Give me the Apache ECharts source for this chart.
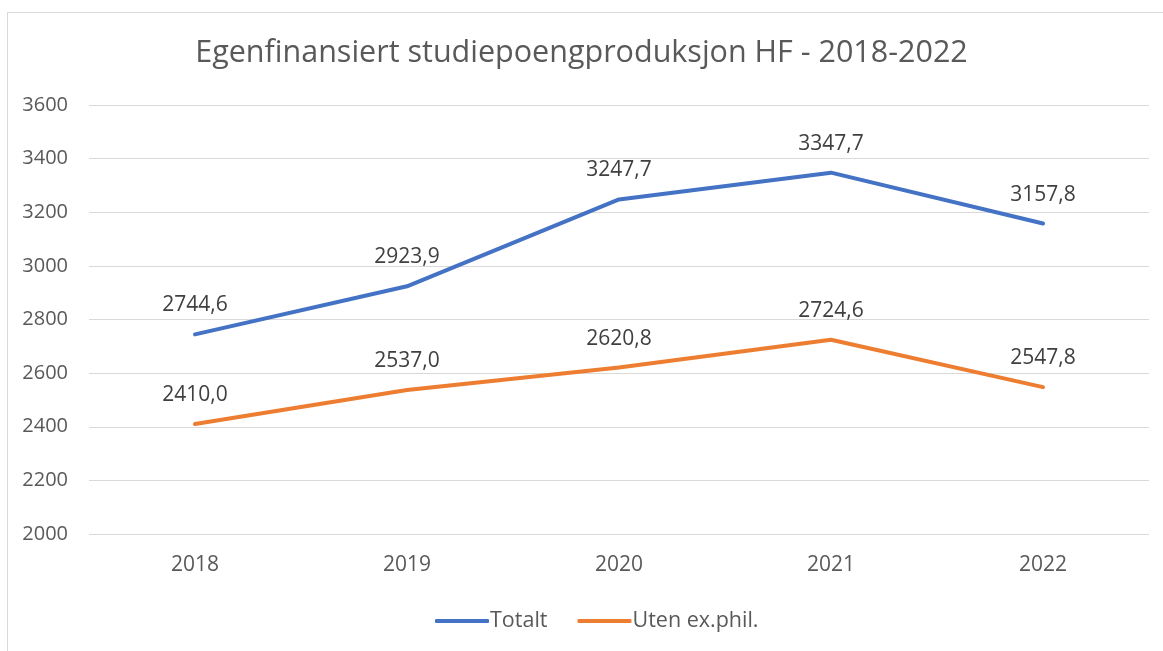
<!DOCTYPE html>
<html>
<head>
<meta charset="utf-8">
<script src="https://cdn.jsdelivr.net/npm/echarts@6/dist/echarts.min.js"></script>
<style>
  html, body { margin: 0; padding: 0; background: #fff; }
  #frame { position: absolute; left: 7px; top: 12px; width: 1170px; height: 650px; border: 1px solid #d9d9d9; box-sizing: border-box; }
  #chart { width: 1163px; height: 651px; }
</style>
</head>
<body>
<div id="frame"></div>
<div id="chart"></div>
<script>
var years = ['2018', '2019', '2020', '2021', '2022'];
var totalt = [2744.6, 2923.9, 3247.7, 3347.7, 3157.8];
var utenExphil = [2410.0, 2537.0, 2620.8, 2724.6, 2547.8];

var font = 'Open Sans';
// norsk desimalkomma
var fmt = function(p) { return Number(p.value).toFixed(1).replace('.', ','); };

var chart = echarts.init(document.getElementById('chart'));
chart.setOption({
    backgroundColor: 'transparent',
    animation: false,
    title: {
        text: 'Egenfinansiert studiepoengproduksjon HF - 2018-2022',
        left: 'center',
        top: 33,
        textStyle: { fontFamily: font, fontSize: 30.5, fontWeight: 'normal', color: '#595959' }
    },
    grid: { left: 89, right: 14, top: 105, bottom: 117 },
    legend: {
        bottom: 14,
        left: 430,
        itemWidth: 54,
        itemHeight: 4,
        itemGap: 30,
        icon: 'roundRect',
        textStyle: { fontFamily: font, fontSize: 21.5, color: '#595959', padding: [0, 0, 0, -4] },
        data: ['Totalt', 'Uten ex.phil.']
    },
    xAxis: {
        type: 'category',
        data: years,
        boundaryGap: true,
        axisLine: { show: false },
        axisTick: { show: false },
        axisLabel: { fontFamily: font, fontSize: 21, color: '#595959', margin: 21 }
    },
    yAxis: {
        type: 'value',
        min: 2000,
        max: 3600,
        interval: 200,
        axisLine: { show: false },
        axisTick: { show: false },
        axisLabel: { fontFamily: font, fontSize: 20, color: '#595959', margin: 21, formatter: function(v) { return String(v); } },
        splitLine: { lineStyle: { color: '#d9d9d9', width: 1 } }
    },
    series: [{
        name: 'Totalt',
        type: 'line',
        data: totalt,
        symbol: 'circle',
        symbolSize: 1,
        itemStyle: { color: '#4472C4' },
        color: '#4472C4',
        lineStyle: { width: 4, cap: 'round', join: 'round' },
        label: { show: true, position: 'top', distance: 18, formatter: fmt, fontFamily: font, fontSize: 21, color: '#404040' }
    }, {
        name: 'Uten ex.phil.',
        type: 'line',
        data: utenExphil,
        symbol: 'circle',
        symbolSize: 1,
        itemStyle: { color: '#ED7D31' },
        color: '#ED7D31',
        lineStyle: { width: 4, cap: 'round', join: 'round' },
        label: { show: true, position: 'top', distance: 18, formatter: fmt, fontFamily: font, fontSize: 21, color: '#404040' }
    }]
});
</script>
</body>
</html>
